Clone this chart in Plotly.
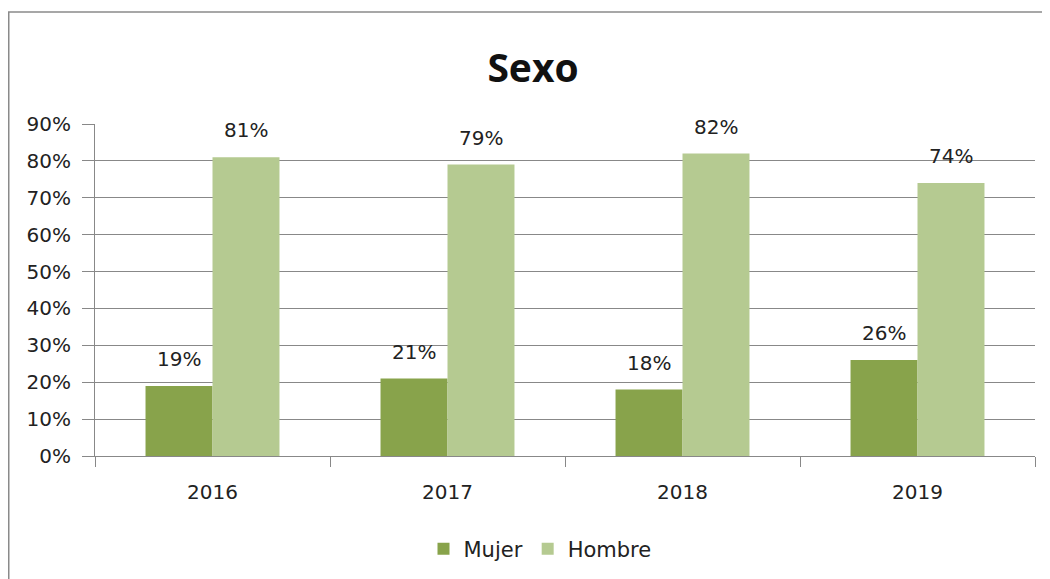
import plotly.graph_objects as go

years = ["2016", "2017", "2018", "2019"]
mujer = [0.19, 0.21, 0.18, 0.26]
hombre = [0.81, 0.79, 0.82, 0.74]
mujer_labels = ["19%", "21%", "18%", "26%"]
hombre_labels = ["81%", "79%", "82%", "74%"]
y_ticks = [0, 0.1, 0.2, 0.3, 0.4, 0.5, 0.6, 0.7, 0.8, 0.9]

C_MUJER = "#88A34B"
C_HOMBRE = "#B5CA91"
FONT = "DejaVu Sans"

W, H = 1050, 579
L, R, T, B = 87, 23, 116, 131
plot_w = W - L - R
plot_h = H - T - B
bargap = 0.43
bar_w = plot_w / len(years) * (1 - bargap) / 2

fig = go.Figure()
fig.add_trace(go.Bar(name="Mujer", x=years, y=mujer, marker=dict(color=C_MUJER, line=dict(width=0))))
fig.add_trace(go.Bar(name="Hombre", x=years, y=hombre, marker=dict(color=C_HOMBRE, line=dict(width=0))))

annotations = []
for i, (v, t) in enumerate(zip(mujer, mujer_labels)):
    annotations.append(dict(x=i, y=v, xref="x", yref="y", text=t, showarrow=False, xshift=-bar_w / 2, yshift=27,
                            yanchor="middle", font=dict(family=FONT, size=20, color="#222")))
for i, (v, t) in enumerate(zip(hombre, hombre_labels)):
    annotations.append(dict(x=i, y=v, xref="x", yref="y", text=t, showarrow=False, xshift=bar_w / 2, yshift=27,
                            yanchor="middle", font=dict(family=FONT, size=20, color="#222")))

fig.update_layout(
    width=W, height=H,
    margin=dict(l=L, r=R, t=T, b=B, autoexpand=False),
    paper_bgcolor="white", plot_bgcolor="white",
    barmode="group", bargap=bargap, bargroupgap=0,
    title=dict(text="<b>Sexo</b>", x=0.5, xanchor="center", y=1 - 60 / H, yanchor="middle",
               font=dict(family="Open Sans", size=39, color="#111")),
    font=dict(family=FONT, size=20, color="#222"),
    showlegend=True,
    legend=dict(orientation="h", x=(532 - L) / plot_w, xanchor="center", y=-(541 - (H - B)) / plot_h,
                yanchor="middle", font=dict(family=FONT, size=21, color="#222"), itemwidth=30, tracegroupgap=0),
    annotations=annotations,
    shapes=[dict(type="rect", xref="paper", yref="paper",
                 x0=(0.75 - L) / plot_w, x1=(W + 10 - L) / plot_w,
                 y0=-(H + 10 - (H - B)) / plot_h, y1=((H - B) - 4) / plot_h,
                 line=dict(color="#8a8a8a", width=1.5), layer="below")],
)

fig.update_xaxes(
    type="category", range=[-0.5, len(years) - 0.5], tickson="boundaries", ticks="outside", ticklen=10,
    tickcolor="#888", showline=True, linecolor="#888", linewidth=1, showgrid=False, tickangle=0,
    tickfont=dict(family=FONT, size=20, color="#222"), ticklabelstandoff=18,
)
fig.update_yaxes(
    range=[0, 0.9], tickvals=y_ticks, tickformat=".0%", ticks="outside", ticklen=12, tickcolor="#888",
    showline=True, linecolor="#888", linewidth=1, showgrid=True, gridcolor="#888", gridwidth=1,
    zeroline=False, tickfont=dict(family=FONT, size=20, color="#222"), ticklabelstandoff=7,
)

fig.write_html("out.html")
